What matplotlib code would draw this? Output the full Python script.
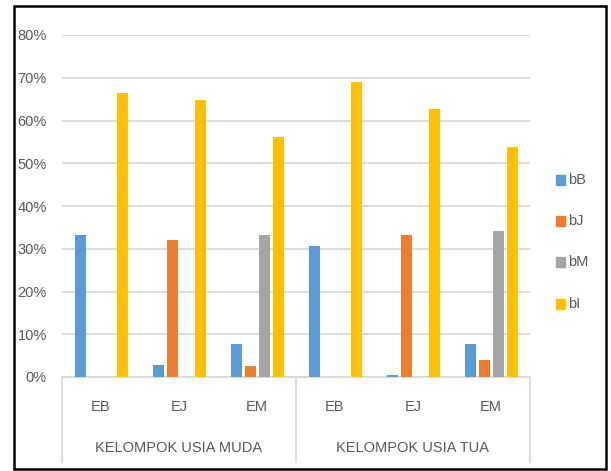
import matplotlib.pyplot as plt
import matplotlib.patches as patches
from matplotlib.transforms import blended_transform_factory
import numpy as np

plt.rcParams['font.family'] = ['DejaVu Sans Condensed', 'Liberation Sans Narrow', 'Liberation Sans']
plt.rcParams['font.stretch'] = 'condensed'

groups = ['KELOMPOK USIA MUDA', 'KELOMPOK USIA TUA']
cats = ['EB', 'EJ', 'EM', 'EB', 'EJ', 'EM']
series = ['bB', 'bJ', 'bM', 'bI']
colors = ['#5B9BD5', '#ED7D31', '#A5A5A5', '#FFC000']

bB = [33.2, 2.7, 7.8, 30.7, 0.5, 7.8]
bJ = [0.0, 32.0, 2.6, 0.0, 33.2, 4.0]
bM = [0.0, 0.0, 33.2, 0.0, 0.0, 34.2]
bI = [66.5, 64.8, 56.1, 68.9, 62.6, 53.9]
values = [bB, bJ, bM, bI]

W, H = 611, 471
fig = plt.figure(figsize=(W / 100, H / 100), dpi=100)
ax = fig.add_axes([62 / W, 1 - 377 / H, 468 / W, 342 / H])

txt = '#595959'
fs = 10.5
x = np.arange(len(cats))
step = 14 / 78
bw = 11 / 78
for i, (name, vals, c) in enumerate(zip(series, values, colors)):
    ax.bar(x + (i - 1.5) * step, np.array(vals) / 100, width=bw, color=c, label=name, zorder=3)

ax.set_xlim(-0.5, 5.5)
ax.set_ylim(0, 0.8)
ax.set_yticks(np.arange(0, 0.81, 0.1))
ax.set_yticklabels([f'{int(round(v * 100))}%' for v in np.arange(0, 0.81, 0.1)])
ax.tick_params(axis='y', length=0, pad=11, labelsize=fs, labelcolor=txt)
ax.set_xticks([])
ax.grid(axis='y', color='#D9D9D9', linewidth=1.3, zorder=0)
for s in ['left', 'right', 'top']:
    ax.spines[s].set_visible(False)
ax.spines['bottom'].set_color('#D9D9D9')
ax.spines['bottom'].set_linewidth(1.3)

# two-level category axis
tr = blended_transform_factory(ax.transData, ax.transAxes)
bottom = -(462 - 377) / 342
for xv in [-0.5, 2.5, 5.5]:
    ax.plot([xv, xv], [0, bottom], color='#D9D9D9', lw=1.3, transform=tr, clip_on=False)
for xv, c in zip(x, cats):
    ax.text(xv, -(407 - 377) / 342, c, transform=tr, ha='center', va='center',
            fontsize=fs, color=txt)
for j, g in enumerate(groups):
    ax.text(1 + 3 * j, -(448 - 377) / 342, g, transform=tr, ha='center', va='center',
            fontsize=fs, color=txt)

# legend
leg_y = [180, 221, 262, 304]
for name, c, yy in zip(series, colors, leg_y):
    fig.patches.append(patches.Rectangle((556 / W, 1 - (yy + 5) / H), 9 / W, 10 / H,
                                         transform=fig.transFigure, color=c))
    fig.text(568 / W, 1 - yy / H, name, ha='left', va='center', fontsize=fs, color=txt)

# outer border
fig.patches.append(patches.Rectangle((14 / W, 1 - 469 / H), 592 / W, 463 / H,
                                     transform=fig.transFigure, fill=False,
                                     edgecolor='black', linewidth=1.8))

fig.savefig('out.png', dpi=100)
